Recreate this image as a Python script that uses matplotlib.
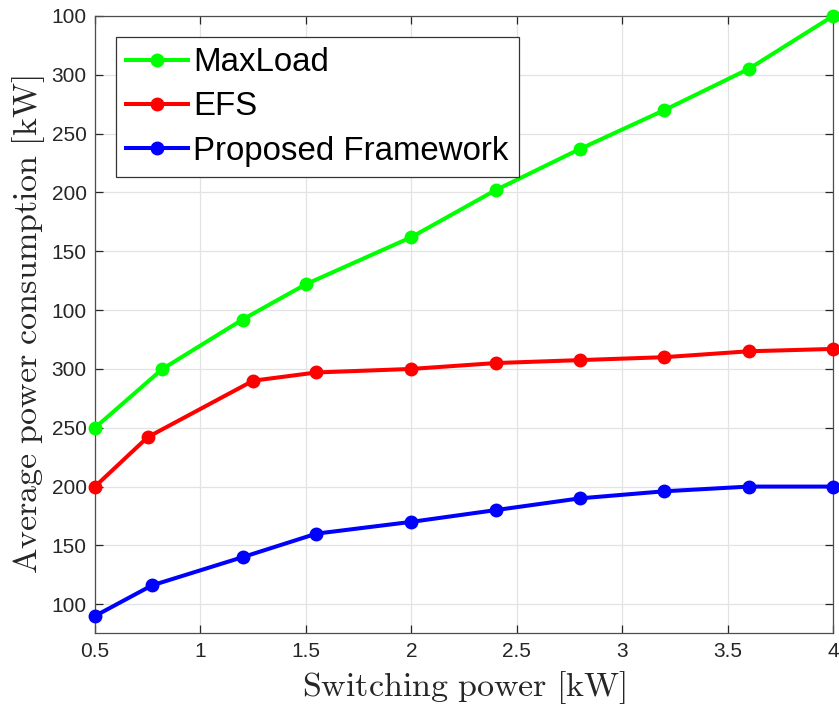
import numpy as np
import matplotlib
matplotlib.use('Agg')
import matplotlib.pyplot as plt

# values (y in plot units, labels repeat as in the original)
x_maxload = [0.5, 0.82, 1.2, 1.5, 2.0, 2.4, 2.8, 3.2, 3.6, 4.0]
maxload = [250, 300, 342, 372, 412, 452, 487, 520, 555, 600]

x_efs = [0.5, 0.75, 1.25, 1.55, 2.0, 2.4, 2.8, 3.2, 3.6, 4.0]
efs = [200, 242, 290, 297, 300, 305, 307.5, 310, 315, 317]

x_prop = [0.5, 0.77, 1.2, 1.55, 2.0, 2.4, 2.8, 3.2, 3.6, 4.0]
proposed = [90, 116, 140, 160, 170, 180, 190, 196, 200, 200]

xticks = [0.5, 1, 1.5, 2, 2.5, 3, 3.5, 4]
xtick_labels = ['0.5', '1', '1.5', '2', '2.5', '3', '3.5', '4']
yticks = [100, 150, 200, 250, 300, 350, 400, 450, 500, 550, 600]
ytick_labels = ['100', '150', '200', '250', '300', '100', '150', '200', '250', '300', '100']

plt.rcParams['mathtext.fontset'] = 'cm'
plt.rcParams['font.family'] = ['Liberation Sans', 'DejaVu Sans']

fig = plt.figure(figsize=(8.39, 7.11), dpi=100)
ax = fig.add_axes([0.1132, 0.1093, 0.8797, 0.8682])

ax.grid(True, color='#e3e3e3', lw=0.9)
ax.set_axisbelow(True)

ax.plot(x_maxload, maxload, '-o', color='#00ff00', lw=2.9, ms=9, label='MaxLoad', clip_on=False, zorder=3)
ax.plot(x_efs, efs, '-o', color='#ff0000', lw=2.9, ms=9, label='EFS', clip_on=False, zorder=3)
ax.plot(x_prop, proposed, '-o', color='#0000ff', lw=2.9, ms=9, label='Proposed Framework', clip_on=False, zorder=3)

ax.set_xlim(0.5, 4)
ax.set_ylim(75.3, 600)
ax.set_xticks(xticks)
ax.set_xticklabels(xtick_labels)
ax.set_yticks(yticks)
ax.set_yticklabels(ytick_labels)

ax.tick_params(direction='in', length=6, width=0.9, colors='#262626', labelsize=15,
               top=True, right=True, pad=6)
for s in ax.spines.values():
    s.set_color('#4d4d4d')
    s.set_linewidth(0.9)

ax.set_xlabel(r'$\mathrm{Switching\ power\ [kW]}$', fontsize=24.5, color='#262626', labelpad=6)
ax.set_ylabel(r'$\mathrm{Average\ power\ consumption\ [kW]}$', fontsize=24.5, color='#262626', labelpad=3)

leg = ax.legend(loc='upper left', bbox_to_anchor=(0.028, 0.9655), fontsize=23.8,
                handlelength=1.9, handletextpad=0.15, labelspacing=0.4,
                borderpad=0.3, borderaxespad=0, fancybox=False, framealpha=1)
leg.get_frame().set_edgecolor('#333333')
leg.get_frame().set_linewidth(0.9)

fig.savefig('out.png', dpi=100)
